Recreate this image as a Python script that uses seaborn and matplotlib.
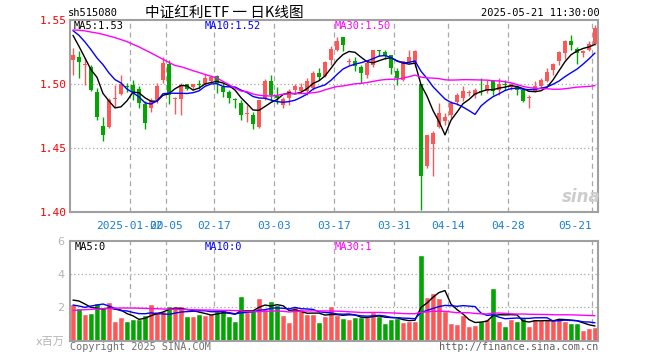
import numpy as np
import pandas as pd
import matplotlib
matplotlib.use("Agg")
import matplotlib.pyplot as plt
import seaborn as sns

# --- daily K-line data (88 trading days, 2025-01-06 .. 2025-05-21)
open_ = [1.519, 1.521, 1.5148, 1.5133, 1.4938, 1.4674, 1.4661, 1.4885, 1.4922, 1.4987,
         1.4995, 1.4961, 1.4844, 1.4813, 1.4878, 1.5034, 1.5156, 1.4880, 1.4883, 1.500,
         1.4977, 1.5003, 1.500, 1.5021, 1.506, 1.4977, 1.4938, 1.4880, 1.4852, 1.4766,
         1.476, 1.4664, 1.4891, 1.5021, 1.4904, 1.4833, 1.4891, 1.4956, 1.4948, 1.4948,
         1.4969, 1.5086, 1.506, 1.519, 1.5268, 1.5367, 1.5174, 1.5182, 1.513, 1.5068,
         1.5151, 1.5263, 1.525, 1.5224, 1.5104, 1.5034, 1.5172, 1.5164, 1.500, 1.4357,
         1.4531, 1.4661, 1.4714, 1.476, 1.4857, 1.4891, 1.4927, 1.4917, 1.4945, 1.4943,
         1.5026, 1.4956, 1.5003, 1.4974, 1.4982, 1.4956, 1.4888, 1.4948, 1.4982, 1.5021,
         1.5112, 1.5182, 1.5242, 1.5339, 1.5276, 1.5242, 1.5268, 1.5312]
high_ = [1.528, 1.5255, 1.520, 1.5151, 1.4969, 1.4742, 1.4891, 1.4995, 1.5073, 1.5005,
         1.5029, 1.4982, 1.4865, 1.4891, 1.5008, 1.5208, 1.519, 1.4895, 1.5008, 1.5003,
         1.5003, 1.5029, 1.5078, 1.5073, 1.5073, 1.5008, 1.4956, 1.4891, 1.4878, 1.4839,
         1.4779, 1.4878, 1.5039, 1.5073, 1.4974, 1.4896, 1.4961, 1.500, 1.5008, 1.5047,
         1.5099, 1.5125, 1.5182, 1.5294, 1.5365, 1.5367, 1.5203, 1.5208, 1.5151, 1.5177,
         1.5263, 1.5263, 1.5263, 1.5229, 1.5125, 1.5182, 1.5268, 1.5268, 1.500, 1.4604,
         1.4635, 1.4852, 1.4773, 1.4865, 1.493, 1.4982, 1.4956, 1.4969, 1.5047, 1.5034,
         1.5034, 1.5047, 1.5034, 1.5008, 1.4995, 1.4969, 1.4917, 1.5021, 1.5047, 1.5125,
         1.5164, 1.526, 1.5346, 1.5385, 1.5286, 1.5268, 1.5333, 1.5458]
low_ = [1.507, 1.5047, 1.4995, 1.4943, 1.4721, 1.4552, 1.4656, 1.4818, 1.4911, 1.4938,
        1.4878, 1.4813, 1.4648, 1.4779, 1.4852, 1.5008, 1.4844, 1.4768, 1.476, 1.4953,
        1.4956, 1.4961, 1.4995, 1.5008, 1.493, 1.4898, 1.4852, 1.4813, 1.4721, 1.4703,
        1.4651, 1.4656, 1.4878, 1.4865, 1.4844, 1.4813, 1.4839, 1.493, 1.4938, 1.4917,
        1.4956, 1.5034, 1.5052, 1.5151, 1.5255, 1.526, 1.5151, 1.5104, 1.5008, 1.5047,
        1.513, 1.5216, 1.5198, 1.5081, 1.4995, 1.5026, 1.5164, 1.513, 1.4018, 1.4344,
        1.4279, 1.4656, 1.4682, 1.4734, 1.4839, 1.4865, 1.4904, 1.4891, 1.4917, 1.4930,
        1.4917, 1.4917, 1.4956, 1.4956, 1.4917, 1.486, 1.4813, 1.4938, 1.4969, 1.5016,
        1.5073, 1.5151, 1.5198, 1.5268, 1.5156, 1.5208, 1.526, 1.5302]
close_ = [1.523, 1.5174, 1.5159, 1.4956, 1.4742, 1.4599, 1.4878, 1.489, 1.500, 1.4977,
          1.4938, 1.4852, 1.4695, 1.4865, 1.4982, 1.5164, 1.4917, 1.4886, 1.4995, 1.4964,
          1.500, 1.4995, 1.5047, 1.5052, 1.5008, 1.4938, 1.4891, 1.4875, 1.4755, 1.4773,
          1.469, 1.4878, 1.5026, 1.4911, 1.4888, 1.4883, 1.4948, 1.4982, 1.4977, 1.5026,
          1.5086, 1.5055, 1.5172, 1.5276, 1.5339, 1.5307, 1.5177, 1.5138, 1.5086, 1.5164,
          1.5263, 1.5258, 1.5216, 1.5125, 1.5047, 1.5177, 1.5211, 1.5255, 1.4279, 1.4604,
          1.4617, 1.4773, 1.474, 1.4852, 1.4917, 1.4948, 1.4938, 1.4956, 1.494, 1.4995,
          1.4948, 1.500, 1.4995, 1.500, 1.4956, 1.487, 1.4893, 1.4982, 1.5034, 1.5094,
          1.5156, 1.525, 1.5339, 1.5302, 1.5242, 1.5255, 1.5312, 1.5437]
# volume, millions
volume = [2.2, 1.98, 1.6, 1.68, 2.28, 1.94, 2.34, 1.2, 1.44, 1.2,
          1.28, 1.28, 1.54, 2.2, 1.8, 1.78, 2.08, 1.94, 2.08, 1.48,
          1.48, 1.6, 1.54, 1.6, 1.8, 1.84, 1.48, 1.2, 2.68, 1.74,
          1.84, 2.56, 1.88, 2.38, 2.14, 1.54, 1.14, 2.08, 1.9, 1.58,
          1.58, 1.14, 1.48, 2.08, 1.54, 1.38, 1.3, 1.44, 1.4, 1.4,
          1.7, 1.48, 1.08, 1.28, 1.34, 1.14, 1.18, 1.2, 5.14, 2.64,
          2.88, 2.58, 1.8, 1.08, 1.0, 1.54, 0.9, 0.94, 1.2, 1.28,
          3.18, 1.2, 0.88, 1.28, 1.2, 1.34, 0.9, 1.28, 1.24, 1.28,
          1.24, 1.38, 1.2, 1.08, 1.08, 0.64, 0.78, 0.84]

# first points of the moving averages need history that is off the chart: read them
ma5_head = [1.538, 1.5294, 1.5203, 1.5112]
ma10_head = [1.5417, 1.538, 1.5328, 1.5268, 1.5203, 1.5151, 1.5086, 1.5034, 1.5008]
ma30_head = [1.5422, 1.5420, 1.5415, 1.5406, 1.5398, 1.5388, 1.5375, 1.5362, 1.5347, 1.5331,
             1.531, 1.529, 1.5266, 1.5243, 1.5218, 1.5193, 1.5168, 1.5145, 1.5135, 1.512,
             1.5104, 1.5090, 1.5075, 1.506, 1.5047, 1.502, 1.4995, 1.4968, 1.4945]
vma5_head = [2.44, 2.38, 2.2, 2.0]
vma10_head = [2.14, 2.08, 2.0, 2.08, 2.14, 2.2, 2.08, 1.94, 1.8]
vma30_head = [1.82, 1.84, 1.86, 1.88, 1.9, 1.92, 1.93, 1.95, 1.96, 1.96,
              1.96, 1.95, 1.94, 1.93, 1.92, 1.9, 1.9, 1.88, 1.88, 1.87,
              1.86, 1.85, 1.84, 1.84, 1.83, 1.82, 1.82, 1.81, 1.80]

tick_idx = [10, 16, 24, 34, 44, 54, 63, 73, 87]
tick_lbl = ["2025-01-20", "02-05", "02-17", "03-03", "03-17", "03-31", "04-14", "04-28", "05-21"]

RED = "#fd5757"
GREEN = "#03a503"
GRID = "#a8a8a8"
MONO = ["DejaVu Sans Mono", "Noto Sans CJK SC"]


def with_head(values, n, head):
    ma = pd.Series(values).rolling(n).mean().to_numpy()
    ma[:len(head)] = head
    return ma


df = pd.DataFrame({"o": open_, "h": high_, "l": low_, "c": close_, "v": volume})
df["i"] = np.arange(len(df))
df["up"] = np.where(df["c"] >= df["o"], "up", "down")
df["ma5"] = with_head(close_, 5, ma5_head)
df["ma10"] = with_head(close_, 10, ma10_head)
df["ma30"] = with_head(close_, 30, ma30_head)
df["vma5"] = with_head(volume, 5, vma5_head)
df["vma10"] = with_head(volume, 10, vma10_head)
df["vma30"] = with_head(volume, 30, vma30_head)
colors = np.where(df["up"] == "up", RED, GREEN)

sns.set_theme(style="white")
plt.rcParams["font.family"] = MONO

W, H = 660, 360
fig = plt.figure(figsize=(W / 100, H / 100), dpi=100)
ax = fig.add_axes([70 / W, 1 - 212 / H, 528 / W, 192 / H])
axv = fig.add_axes([70 / W, 1 - 340.7 / H, 528 / W, 100 / H])

# candles
ax.vlines(df["i"], df["l"], df["h"], colors=colors, lw=1, zorder=2)
body = np.maximum((df["c"] - df["o"]).abs(), 0.0008)
ax.bar(df["i"], body, bottom=np.minimum(df["o"], df["c"]), width=0.8,
       color=colors, linewidth=0, zorder=2)

sns.lineplot(data=df, x="i", y="ma5", color="black", lw=1, ax=ax, zorder=3)
sns.lineplot(data=df, x="i", y="ma10", color="#0000ff", lw=1, ax=ax, zorder=3)
sns.lineplot(data=df, x="i", y="ma30", color="#ff00ff", lw=1, ax=ax, zorder=3)

# volume
sns.barplot(data=df, x="i", y="v", hue="up", palette={"up": RED, "down": GREEN},
            native_scale=True, dodge=False, width=0.85, saturation=1,
            errorbar=None, legend=False, ax=axv, zorder=2)
sns.lineplot(data=df, x="i", y="vma5", color="black", lw=1, ax=axv, zorder=3)
sns.lineplot(data=df, x="i", y="vma10", color="#0000ff", lw=1, ax=axv, zorder=3)
sns.lineplot(data=df, x="i", y="vma30", color="#ff00ff", lw=1, ax=axv, zorder=3)

for a in (ax, axv):
    a.set_xlim(-0.5, len(df) - 0.5)
    a.set_xlabel("")
    a.set_ylabel("")
    for s in a.spines.values():
        s.set_color("#a0a0a0")
        s.set_linewidth(1.5)
    for t in tick_idx:
        a.axvline(t - 0.5, color=GRID, lw=0.9, dashes=(4, 3), zorder=1)

ax.set_ylim(1.40, 1.55)
for yv in (1.45, 1.50):
    ax.axhline(yv, color=GRID, lw=0.9, ls=(0, (1, 2)), zorder=1)
ax.set_yticks([1.40, 1.45, 1.50, 1.55], ["1.40", "1.45", "1.50", "1.55"])
ax.tick_params(axis="y", colors="red", length=0, pad=2.5, labelsize=8)
ax.set_xticks([t - 0.5 for t in tick_idx], tick_lbl)
ax.tick_params(axis="x", colors="#1a7fd4", length=0, pad=6.5, labelsize=8)
ax.get_xticklabels()[-1].set_ha("right")

axv.set_ylim(0, 6)
for yv in (2, 4):
    axv.axhline(yv, color=GRID, lw=0.9, ls=(0, (1, 2)), zorder=1)
axv.set_xticks([])
axv.set_yticks([0, 2, 4, 6], ["x百万", "2", "4", "6"])
axv.tick_params(axis="y", colors="#b4b4b4", length=0, pad=4, labelsize=8)
for lab in axv.get_yticklabels():
    lab.set_family(["DejaVu Sans", "Noto Sans CJK SC"])


def ftext(x, y, s, **kw):
    fig.text(x / W, 1 - y / H, s, va="center", **kw)


ftext(68, 13, "sh515080", fontsize=7.5, color="black")
ftext(224, 13, "中证红利ETF 一 日K线图", fontsize=10.5, ha="center", color="black",
      family=["Noto Sans CJK SC", "DejaVu Sans"])
ftext(600, 13, "2025-05-21 11:30:00", fontsize=7.5, ha="right", color="black")

ftext(74, 26, "MA5:1.53", fontsize=7.5, color="black")
ftext(205, 26, "MA10:1.52", fontsize=7.5, color="#0000ff")
ftext(335, 26, "MA30:1.50", fontsize=7.5, color="#ff00ff")

ftext(75, 246.5, "MA5:0", fontsize=7.5, color="black")
ftext(205, 246.5, "MA10:0", fontsize=7.5, color="#0000ff")
ftext(335, 246.5, "MA30:1", fontsize=7.5, color="#ff00ff")

ftext(70, 346.5, "Copyright 2025 SINA.COM", fontsize=7.3, color="#707070")
ftext(598, 346.5, "http://finance.sina.com.cn", fontsize=7.3, ha="right", color="#606060")

ftext(581, 197, "sina", fontsize=12, ha="center", color="#cdcdcd",
      fontweight="bold", fontstyle="italic", family="DejaVu Sans")

fig.savefig("out.png", dpi=100)
